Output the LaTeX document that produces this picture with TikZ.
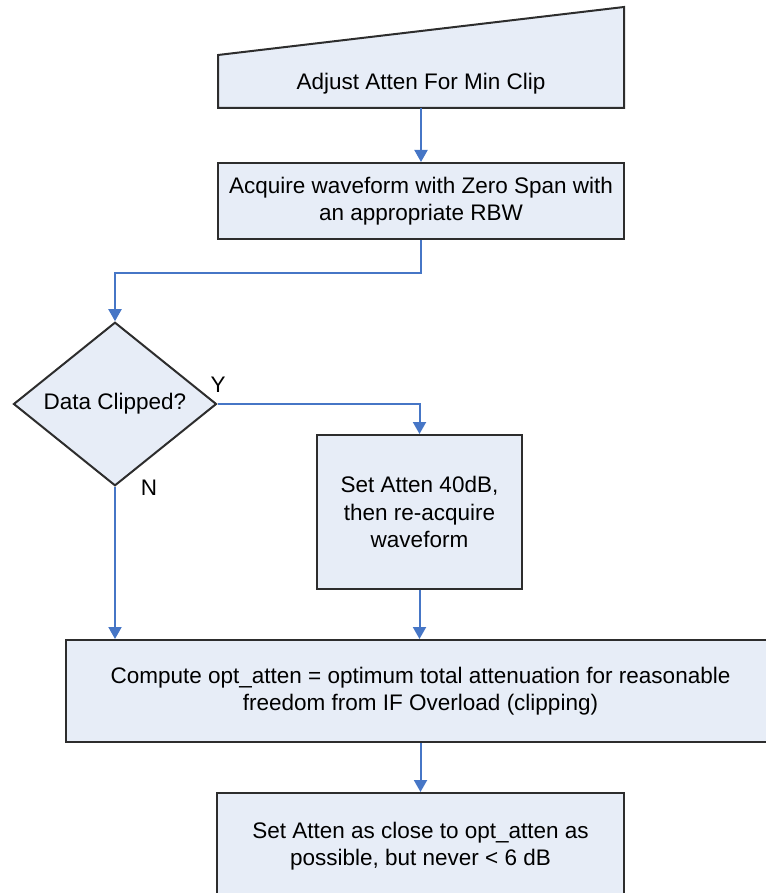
\documentclass[tikz,border=0pt]{standalone}
\usepackage{fontspec}
\setmainfont{Liberation Sans}
\usepackage{tikz}
\usetikzlibrary{shapes.geometric, arrows.meta, positioning, calc}
\definecolor{boxfill}{RGB}{231,237,247}
\definecolor{flowblue}{RGB}{70,118,198}
\definecolor{edgegray}{RGB}{45,45,45}

\begin{document}
\begin{tikzpicture}[x=1pt, y=-1pt,
  font=\fontsize{22.5}{27.5}\selectfont,
  stepbox/.style={draw=edgegray, line width=2pt, fill=boxfill, align=center, inner sep=0pt},
  flow/.style={flowblue, line width=2pt, -{Triangle[width=13pt, length=12pt]}}]
  \useasboundingbox (0,0) rectangle (765,893);
  % manual input, slanted top
  \draw[draw=edgegray, line width=2pt, fill=boxfill] (218,108) -- (218,55) -- (624,7) -- (624,108) -- cycle;
  \node[align=center, inner sep=0pt, minimum width=406pt, minimum height=49pt] (adjust) at (421,83.5) {Adjust Atten For Min Clip};
  \node[stepbox, minimum width=406pt, minimum height=76pt] (acquire) at (421,201) {Acquire waveform with Zero Span with\\an appropriate RBW};
  \node[stepbox, diamond, minimum width=203pt, minimum height=151pt] (clipped) at (115,404) {Data Clipped?};
  \node[stepbox, minimum width=205pt, minimum height=154pt] (set40) at (419.5,512) {Set Atten 40dB,\\then re-acquire\\waveform};
  \node[stepbox, minimum width=709pt, minimum height=102pt] (compute) at (420.5,691) {Compute opt\_atten = optimum total attenuation for reasonable\\freedom from IF Overload (clipping)};
  \node[stepbox, minimum width=407pt, minimum height=106pt] (setclose) at (420.5,846) {Set Atten as close to opt\_atten as\\possible, but never < 6 dB};
  % branch labels
  \node (yes) at (218,385) {Y};
  \node (no) at (149,488) {N};
  % connectors
  \draw[flow] (adjust.south) -- (acquire.north);
  \draw[flow] (acquire.south) -- ++(0,33) -| (clipped.north);
  \draw[flow] (clipped.east) -| (set40.north);
  \draw[flow] (clipped.south) -- (clipped.south |- compute.north);
  \draw[flow] (set40.south) -- (set40.south |- compute.north);
  \draw[flow] (compute.south) -- (setclose.north);
\end{tikzpicture}
\end{document}
